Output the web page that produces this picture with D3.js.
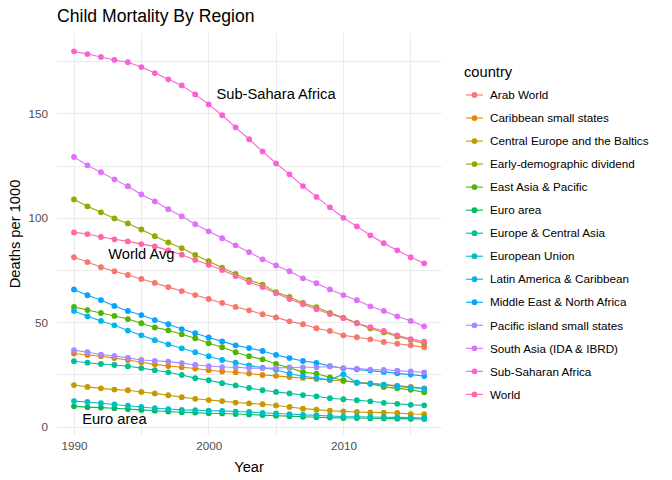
<!DOCTYPE html>
<html>
<head>
    <meta charset="utf-8">
    <script type="text/javascript" src="https://cdn.jsdelivr.net/npm/d3@7/dist/d3.min.js"></script>
    <style>
        body { margin: 0; background: #fff; }
        text { font-family: "Liberation Sans", Arial, sans-serif; }
    </style>
</head>
<body>
    <div id="viz"></div>
    <script type="text/javascript">

    // data, deaths per 1000, one value per year 1990..2016
    var years = d3.range(1990, 2017);

    var countries = ["Arab World", "Caribbean small states", "Central Europe and the Baltics",
        "Early-demographic dividend", "East Asia & Pacific", "Euro area", "Europe & Central Asia",
        "European Union", "Latin America & Caribbean", "Middle East & North Africa",
        "Pacific island small states", "South Asia (IDA & IBRD)", "Sub-Saharan Africa", "World"];

    var arabWorld = [81.3, 79.0, 76.5, 74.6, 72.8, 70.9, 69.0, 67.0, 65.1, 63.2, 61.3, 59.4, 57.5, 55.9,
        54.0, 52.5, 50.6, 49.2, 47.3, 46.0, 43.9, 43.0, 42.0, 40.7, 39.9, 39.1, 38.2];
    var caribbean = [35.2, 34.5, 33.9, 33.0, 32.1, 31.0, 30.0, 29.2, 28.6, 28.0, 27.2, 26.6, 26.2, 25.6,
        24.9, 24.5, 23.9, 23.5, 23.0, 22.5, 22.0, 21.3, 20.9, 20.3, 19.8, 19.2, 18.5];
    var centralEurope = [20.1, 19.2, 18.5, 17.9, 17.6, 16.8, 16.1, 15.2, 14.3, 13.5, 12.9, 12.4, 11.7, 11.3,
        10.9, 10.3, 9.6, 8.8, 8.3, 7.8, 7.5, 7.2, 7.0, 6.9, 6.7, 6.2, 6.1];
    var earlyDemo = [109.0, 105.7, 102.8, 99.9, 97.5, 94.6, 91.4, 88.4, 85.7, 82.4, 79.4, 76.3, 73.3, 70.4,
        68.2, 64.6, 62.3, 59.4, 57.4, 54.7, 52.4, 49.8, 47.2, 45.3, 43.3, 41.7, 39.9];
    var eastAsia = [57.5, 56.0, 54.6, 53.2, 51.7, 49.7, 47.7, 46.3, 44.4, 42.5, 40.1, 38.2, 35.8, 33.9,
        32.4, 30.2, 28.4, 26.3, 25.5, 23.8, 22.4, 21.2, 20.7, 19.2, 18.5, 17.8, 16.7];
    var euroArea = [9.9, 9.5, 9.3, 9.0, 8.6, 8.2, 7.8, 7.4, 7.1, 6.9, 6.6, 6.5, 6.2, 6.0,
        5.7, 5.4, 5.2, 4.9, 4.7, 4.5, 4.3, 4.3, 4.2, 4.1, 4.0, 3.9, 3.8];
    var europeCA = [31.5, 30.8, 30.2, 29.7, 29.1, 28.2, 27.2, 26.2, 24.9, 23.4, 22.4, 21.0, 19.9, 18.7,
        17.6, 16.8, 16.1, 15.3, 14.7, 13.8, 13.3, 12.8, 12.3, 11.6, 11.1, 10.6, 10.4];
    var europeanUnion = [12.4, 12.0, 11.4, 10.8, 10.2, 9.6, 9.0, 8.6, 8.2, 8.1, 7.8, 7.7, 7.4, 7.2,
        6.8, 6.5, 6.2, 5.8, 5.6, 5.3, 5.0, 4.9, 4.8, 4.7, 4.6, 4.5, 4.3];
    var latinAmerica = [55.6, 53.0, 50.8, 48.7, 46.2, 43.9, 41.6, 39.6, 37.7, 35.8, 33.9, 32.1, 30.8, 29.5,
        28.4, 27.4, 25.5, 24.3, 23.5, 22.6, 25.3, 21.2, 20.8, 20.3, 19.4, 18.8, 18.3];
    var middleEast = [65.9, 63.1, 60.8, 58.0, 55.6, 53.6, 51.2, 49.2, 46.9, 44.9, 42.9, 41.0, 39.1, 37.8,
        36.4, 34.5, 33.0, 31.6, 30.7, 29.2, 28.1, 27.6, 27.0, 26.4, 25.7, 25.1, 24.4];
    var pacific = [36.8, 35.8, 34.7, 34.0, 33.1, 32.1, 31.7, 31.3, 30.6, 29.7, 29.2, 28.7, 28.6, 28.2,
        28.2, 28.2, 28.5, 28.6, 28.6, 29.0, 28.2, 28.0, 27.5, 27.4, 27.0, 26.6, 26.2];
    var southAsia = [129.3, 125.3, 122.0, 118.6, 115.3, 111.4, 108.1, 104.3, 100.9, 97.1, 93.7, 90.4, 87.0, 83.7,
        80.3, 77.4, 74.6, 71.2, 68.9, 65.9, 63.2, 60.7, 57.8, 55.6, 53.0, 50.8, 48.2];
    var subSahara = [179.9, 178.6, 177.2, 175.8, 174.7, 172.4, 169.5, 166.5, 163.6, 159.3, 154.5, 149.3, 143.5, 137.8,
        132.0, 126.3, 121.0, 115.4, 110.2, 105.2, 100.2, 96.1, 91.8, 88.0, 84.6, 81.3, 78.4];
    var world = [93.2, 92.4, 91.0, 89.9, 88.9, 87.6, 86.5, 84.6, 82.5, 80.0, 77.7, 75.2, 72.3, 69.4,
        67.0, 64.0, 61.3, 58.8, 56.4, 54.1, 52.1, 49.7, 47.8, 46.0, 43.9, 42.1, 40.9];

    var seriesValues = [arabWorld, caribbean, centralEurope, earlyDemo, eastAsia, euroArea, europeCA,
        europeanUnion, latinAmerica, middleEast, pacific, southAsia, subSahara, world];

    // ggplot's default hue palette for 14 levels
    var colours = ["#F8766D", "#E38900", "#C49A00", "#99A800", "#53B400", "#00BC56", "#00C094",
        "#00BFC4", "#00B6EB", "#06A4FF", "#A58AFF", "#DF70F8", "#FB61D7", "#FF66A8"];

    var yTicks = [0, 50, 100, 150];
    var xTicks = [1990, 2000, 2010];
    var yMinor = [25, 75, 125, 175];
    var xMinor = [1995, 2005, 2015];

    var labelText = ["Sub-Sahara Africa", "World Avg", "Euro area"];
    var labelYear = [2005, 1995, 1993];
    var labelValue = [159.5, 83, 4];

    var width = 672, height = 480;
    var panelLeft = 56.5, panelRight = 441.7, panelTop = 33, panelBottom = 435;

    var x = d3.scaleLinear().domain([1990, 2016]).range([74, 424.2]);
    var y = d3.scaleLinear().domain([0, 150]).range([427, 113.8]);
    var colour = d3.scaleOrdinal().domain(countries).range(colours);

    var svg = d3.select("#viz").append("svg")
        .attr("width", width)
        .attr("height", height);

    // grid lines, all one pixel, snapped to the pixel grid
    function snap(v) { return Math.floor(v) + 0.5; }
    var grid = svg.append("g");
    grid.selectAll("line.h").data(yMinor.concat(yTicks)).enter().append("line")
        .attr("x1", panelLeft).attr("x2", panelRight)
        .attr("y1", function(d) { return snap(y(d)); }).attr("y2", function(d) { return snap(y(d)); })
        .style("stroke", "#EBEBEB").style("stroke-width", 1);
    grid.selectAll("line.v").data(xMinor.concat(xTicks)).enter().append("line")
        .attr("y1", panelTop).attr("y2", panelBottom)
        .attr("x1", function(d) { return snap(x(d)); }).attr("x2", function(d) { return snap(x(d)); })
        .style("stroke", "#EBEBEB").style("stroke-width", 1);

    // axes (no domain line or ticks, like theme_minimal)
    var yAxis = svg.append("g")
        .attr("transform", "translate(" + (panelLeft - 8.5) + ",0)")
        .call(d3.axisLeft(y).tickValues(yTicks).tickSize(0).tickPadding(0));
    var xAxis = svg.append("g")
        .attr("transform", "translate(0," + (panelBottom + 7) + ")")
        .call(d3.axisBottom(x).tickValues(xTicks).tickFormat(d3.format("d")).tickSize(0).tickPadding(0));
    [yAxis, xAxis].forEach(function(a) {
        a.select(".domain").remove();
        a.selectAll("text")
            .style("font-family", "'Liberation Sans', Arial, sans-serif")
            .style("font-size", "11.7px")
            .style("fill", "#4D4D4D");
    });
    xAxis.selectAll("text").attr("dy", "0.71em");

    var rows = countries.map(function(c, i) {
        return { name: c, values: seriesValues[i].map(function(v, j) { return { year: years[j], value: v }; }) };
    });

    var line = d3.line()
        .x(function(d) { return x(d.year); })
        .y(function(d) { return y(d.value); });

    svg.append("g").selectAll("path").data(rows).enter().append("path")
        .attr("d", function(d) { return line(d.values); })
        .style("fill", "none")
        .style("stroke", function(d) { return colour(d.name); })
        .style("stroke-width", 1.1);

    var pts = svg.append("g");
    rows.forEach(function(r) {
        pts.selectAll(null).data(r.values).enter().append("circle")
            .attr("cx", function(d) { return x(d.year); })
            .attr("cy", function(d) { return y(d.value); })
            .attr("r", 2.9)
            .style("fill", colour(r.name));
    });

    // annotations
    svg.append("g").selectAll("text").data(labelText).enter().append("text")
        .attr("x", function(d, i) { return x(labelYear[i]); })
        .attr("y", function(d, i) { return y(labelValue[i]); })
        .attr("dy", "0.36em")
        .attr("text-anchor", "middle")
        .style("font-size", "14.7px")
        .style("fill", "#000")
        .text(function(d) { return d; });

    // titles
    svg.append("text")
        .attr("x", 57).attr("y", 22)
        .style("font-size", "17.6px")
        .text("Child Mortality By Region");
    svg.append("text")
        .attr("x", (panelLeft + panelRight) / 2).attr("y", 472)
        .attr("text-anchor", "middle")
        .style("font-size", "14.7px")
        .text("Year");
    svg.append("text")
        .attr("transform", "translate(20," + ((panelTop + panelBottom) / 2) + ") rotate(-90)")
        .attr("text-anchor", "middle")
        .style("font-size", "14.7px")
        .text("Deaths per 1000");

    // legend
    var legend = svg.append("g").attr("transform", "translate(464,0)");
    legend.append("text")
        .attr("x", 0).attr("y", 77)
        .style("font-size", "14.7px")
        .text("country");
    var keys = legend.selectAll("g.key").data(countries).enter().append("g")
        .attr("transform", function(d, i) { return "translate(0," + (95 + i * 23.03) + ")"; });
    keys.append("line")
        .attr("x1", 2).attr("x2", 19).attr("y1", 0).attr("y2", 0)
        .style("stroke", function(d) { return colour(d); })
        .style("stroke-width", 1.1);
    keys.append("circle")
        .attr("cx", 10.5).attr("cy", 0).attr("r", 2.9)
        .style("fill", function(d) { return colour(d); });
    keys.append("text")
        .attr("x", 26).attr("y", 0).attr("dy", "0.36em")
        .style("font-size", "11.7px")
        .style("fill", "#000")
        .text(function(d) { return d; });

    </script>
</body>
</html>
